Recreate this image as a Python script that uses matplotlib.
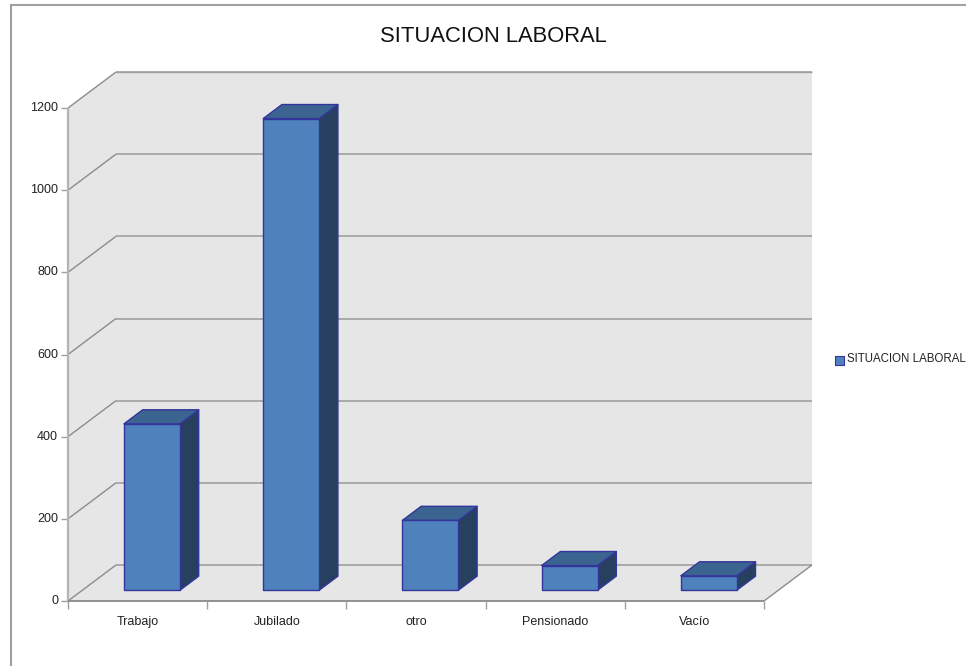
import matplotlib
matplotlib.use("Agg")
import matplotlib.pyplot as plt
from matplotlib.patches import Polygon, Rectangle

title = "SITUACION LABORAL"
categories = ["Trabajo", "Jubilado", "otro", "Pensionado", "Vacío"]
values = [405, 1148, 170, 60, 35]
y_ticks = [0, 200, 400, 600, 800, 1000, 1200]

W, H = 966, 666
plt.rcParams['font.family'] = ['Liberation Sans', 'DejaVu Sans']
fig = plt.figure(figsize=(W / 100, H / 100), dpi=100)
fig.patches.append(Rectangle((10.5 / W, -0.1), 1.1, 1.1 - 5.5 / H, transform=fig.transFigure,
                             fc='white', ec='#a0a0a0', lw=1.5, zorder=-5))

L, R, B, T = 68, 764, 601, 108
ax = fig.add_axes([L / W, 1 - B / H, (R - L) / W, (B - T) / H])
ax.set_xlim(0, len(categories))
ax.set_ylim(0, 1200)
ax.axis('off')

PX = (R - L) / len(categories)      # pixels per category
PY = (B - T) / 1200                 # pixels per value unit
DEPTH_X, DEPTH_Y = 48 / PX, 36 / PY


def pt(cat, val, depth=0.0):
    """Oblique projection: depth 0 = front, 1 = back wall."""
    return (cat + depth * DEPTH_X, val + depth * DEPTH_Y)


def poly(points, **kw):
    ax.add_patch(Polygon(points, closed=True, clip_on=False, **kw))


n = len(categories)
top = y_ticks[-1]
wall = '#e6e6e6'
poly([pt(0, 0), pt(0, top), pt(0, top, 1), pt(n, top, 1), pt(n, 0, 1), pt(n, 0)],
     fc=wall, ec='none', zorder=1)


def seg(a, b, color='#8c8c8c', lw=1.0, z=2):
    ax.plot([a[0], b[0]], [a[1], b[1]], color=color, lw=lw, clip_on=False, zorder=z,
            solid_capstyle='butt')


for v in y_ticks:
    seg(pt(0, v), pt(0, v, 1))
    seg(pt(0, v, 1), pt(n, v, 1), color='#a0a0a0', lw=1.2)
    seg((0 - 7 / PX, v), pt(0, v), color='#a0a0a0', lw=1.0)
    ax.text(-10 / PX, v, str(v), ha='right', va='center', fontsize=9, color='#222222', clip_on=False)

seg(pt(0, 0), pt(0, top), color='#b4b4b4', lw=1.6)
seg(pt(0, 0), pt(n, 0), color='#808080', lw=1.2)
seg(pt(n, 0), pt(n, 0, 1))
seg(pt(0, top, 1), pt(n, top, 1), color='#a0a0a0', lw=1.0)
for i in range(n + 1):
    seg((i, 0), (i, -8 / PY), color='#a0a0a0', lw=1.0)
for i, c in enumerate(categories):
    ax.text(i + 0.5, -21 / PY, c, ha='center', va='center', fontsize=9, color='#222222', clip_on=False)

# bars
bar_w = 56 / PX
d0, d1 = 0.30, 0.69
front, topc, side = '#4f81bd', '#3c6491', '#27405f'
edge = '#33359c'
for i, v in enumerate(values):
    x0 = i + 0.5 + 14.4 / PX - bar_w / 2 - d0 * DEPTH_X
    x1 = x0 + bar_w
    kw = dict(ec=edge, lw=1.0, zorder=5, joinstyle='round')
    poly([pt(x1, 0, d0), pt(x1, 0, d1), pt(x1, v, d1), pt(x1, v, d0)], fc=side, **kw)
    poly([pt(x0, v, d0), pt(x0, v, d1), pt(x1, v, d1), pt(x1, v, d0)], fc=topc, **kw)
    poly([pt(x0, 0, d0), pt(x1, 0, d0), pt(x1, v, d0), pt(x0, v, d0)], fc=front, **kw)

fig.text(493.5 / W, 1 - 37 / H, title, ha='center', va='center', fontsize=15.8, color='#111111')

fig.patches.append(Rectangle((835 / W, 1 - 365 / H), 9 / W, 9 / H, transform=fig.transFigure,
                             fc=front, ec=edge, lw=0.8, zorder=-1))
fig.text(847 / W, 1 - 359.5 / H, title, ha='left', va='center', fontsize=8.3, color='#222222')

fig.savefig("out.png", dpi=100)
